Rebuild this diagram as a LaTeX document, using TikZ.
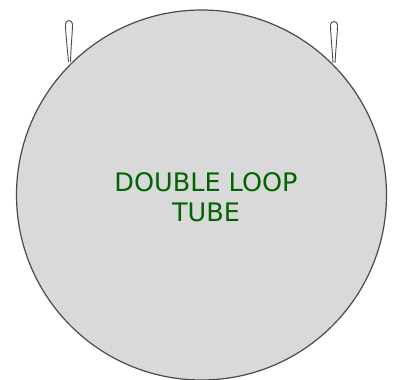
\documentclass[tikz,border=0pt]{standalone}
\usepackage{fontspec}
\setmainfont{DejaVu Sans}
\definecolor{tubefill}{HTML}{D9D9D9}
\definecolor{tubeline}{HTML}{4A4A4A}
\definecolor{txtgreen}{HTML}{006400}
\tikzset{
  loopstyle/.style={draw=tubeline, line width=0.9pt, fill=white},
  tube/.style={circle, draw=tubeline, line width=1.2pt, fill=tubefill, minimum size=370pt, inner sep=0pt},
  label/.style={text=txtgreen, font=\fontsize{25.5}{30}\selectfont, align=center}
}
\begin{document}
\begin{tikzpicture}[x=1pt,y=-1pt]
\useasboundingbox (0,0) rectangle (397,380);
% loops
\draw[loopstyle] (68.5,62) .. controls (67,45) and (65.5,32) .. (65.5,24) arc[start angle=180, end angle=360, radius=3.5] .. controls (72.5,32) and (71,45) .. (70.5,62);
\draw[loopstyle] (333,63) .. controls (332,46) and (330.5,33) .. (330.5,25) arc[start angle=180, end angle=360, radius=3.5] .. controls (337.5,33) and (336,46) .. (335,63);
\node[tube] (tube) at (201.5,195) {};
\node[label] (txt) at (206,197) {DOUBLE LOOP\\TUBE};
\end{tikzpicture}
\end{document}
